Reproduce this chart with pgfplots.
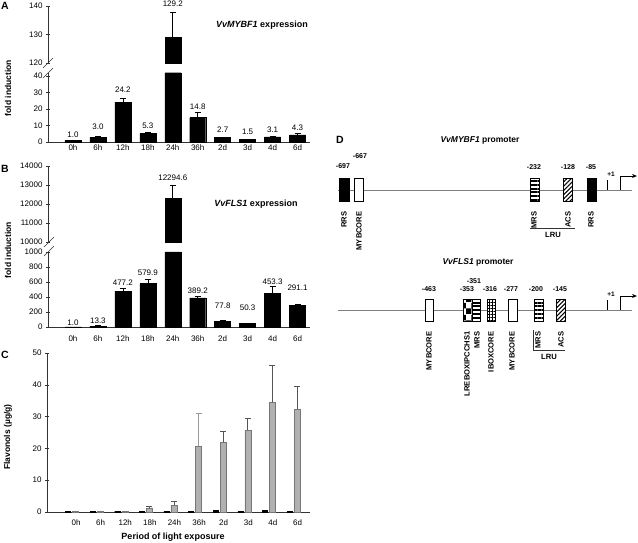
\documentclass[border=0pt]{standalone}
\usepackage{fontspec}
\setmainfont{Liberation Sans}
\usepackage{pgfplots}
\usepackage{pgfplotstable}
\pgfplotsset{compat=1.18}
\usetikzlibrary{patterns,patterns.meta,arrows.meta}

\pgfplotstableread{
x y e
0 1.0 0.3
1 3.0 0.4
2 24.2 2.3
3 5.3 0.3
4 129.2 8.6
5 14.8 2.9
6 2.7 0.2
7 1.5 0.3
8 3.1 0.3
9 4.3 0.8
}\dataA
\pgfplotstableread{
x ylab lab
0 4.2 1.0
1 9.3 3.0
2 31.5 24.2
3 9.7 5.3
5 21.4 14.8
6 7.3 2.7
7 6.1 1.5
8 7.5 3.1
9 8.5 4.3
}\labA
\pgfplotstableread{
x y e
0 1.0 0
1 13.3 3
2 477.2 45
3 579.9 50
4 12294.6 700
5 389.2 20
6 77.8 5
7 50.3 5
8 453.3 95
9 291.1 10
}\dataB
\pgfplotstableread{
x ylab lab
0 57 1.0
1 84 13.3
2 587 477.2
3 720 579.9
5 480 389.2
6 280 77.8
7 257 50.3
8 604 453.3
9 524 291.1
}\labB
\pgfplotstableread{
x y
0 0.2
1 0.2
2 0.25
3 0.2
4 0.25
5 0.25
6 0.5
7 0.2
8 0.5
9 0.2
}\dataCblack
\pgfplotstableread{
x y e
0 0.2 0
1 0.2 0
2 0.25 0
3 1.3 0.4
4 2.2 1.1
5 20.7 10.4
6 21.9 3.5
7 25.7 3.7
8 34.5 11.6
9 32.3 7.1
}\dataCgray

\definecolor{axcol}{HTML}{333333}
\definecolor{barGray}{HTML}{B0B0B0}
\definecolor{barGrayEdge}{HTML}{777777}
\definecolor{errGray}{HTML}{555555}
\definecolor{errLight}{HTML}{9A9A9A}
\definecolor{promLine}{HTML}{808080}

\pgfplotsset{
  panelbase/.style={
    scale only axis, clip=false,
    tick style={axcol, line width=0.6pt},
    tick align=outside, major tick length=4pt,
    /pgf/number format/assume math mode=true,
    /pgf/number format/1000 sep={},
    tick label style={font=\fontsize{8}{9}\selectfont},
    width=262pt, xmin=-1, xmax=9.5,
  },
  noarrows/.style={
    axis line style={axcol, line width=0.6pt, -},
    every outer x axis line/.append style={-},
    every outer y axis line/.append style={-},
    every inner x axis line/.append style={-},
    every inner y axis line/.append style={-},
    x axis line style={-}, y axis line style={-},
  },
  panel/.style={panelbase,
    axis x line=bottom, axis y line=left, noarrows,
    xtick={0,...,9}, xticklabels={0h,6h,12h,18h,24h,36h,2d,3d,4d,6d},
    x tick style={draw=none},
  },
  panelup/.style={panelbase,
    axis x line=none, axis y line=left, noarrows, xtick=\empty,
  },
  labelplot/.style={draw=none, mark=none, nodes near coords, point meta=explicit symbolic,
    every node near coord/.append style={anchor=center, inner sep=0pt, font=\fontsize{8}{9}\selectfont}},
  blackerr/.style={error bars/.cd, y dir=plus, y explicit,
    error bar style={draw=black, line width=0.6pt, solid},
    error mark options={draw=black, line width=0.6pt, mark size=3pt, rotate=90}},
  grayerr/.style={error bars/.cd, y dir=plus, y explicit,
    error bar style={draw=#1, line width=0.6pt, solid},
    error mark options={draw=#1, line width=0.6pt, mark size=3pt, rotate=90}},
}

\begin{document}
\begin{tikzpicture}
\useasboundingbox (0,0) rectangle (638pt,542pt);

% ---------------- Panel A lower
\begin{axis}[panel, at={(48pt,400pt)}, anchor=south west, height=69.3pt,
  ymin=0, ymax=42, ytick={0,10,20,30,40}, x tick label style={yshift=3pt}]
\addplot[ybar, bar width=16pt, fill=black, draw=black, restrict y to domain*=0:42] table[x=x,y=y]{\dataA};
\addplot[draw=none, mark=none, restrict y to domain=0:42, blackerr] table[x=x,y=y,y error=e]{\dataA};
\addplot[labelplot] table[x=x,y=ylab,meta=lab]{\labA};
\end{axis}
% ---------------- Panel A upper
\begin{axis}[panelup, at={(48pt,479pt)}, anchor=south west, height=57pt,
  ymin=0, ymax=20, ytick={0,10,20}, yticklabels={120,130,140}, y filter/.expression={y-120}]
\addplot[ybar, bar width=16pt, fill=black, draw=black, blackerr] coordinates {(4,129.2) +- (0,8.6)};
\addplot[labelplot] coordinates {(4,140.7) [129.2]};
\end{axis}

% ---------------- Panel B lower
\begin{axis}[panel, at={(48pt,215pt)}, anchor=south west, height=75pt,
  ymin=0, ymax=1000, ytick={0,200,...,1000}, x tick label style={yshift=-3pt}]
\addplot[ybar, bar width=16pt, fill=black, draw=black, restrict y to domain*=0:1000] table[x=x,y=y]{\dataB};
\addplot[draw=none, mark=none, restrict y to domain=0:1000, blackerr] table[x=x,y=y,y error=e]{\dataB};
\addplot[labelplot] table[x=x,y=ylab,meta=lab]{\labB};
\end{axis}
% ---------------- Panel B upper
\begin{axis}[panelup, at={(48pt,300pt)}, anchor=south west, height=76pt,
  ymin=0, ymax=4000, ytick={0,1000,...,4000}, yticklabels={10000,11000,12000,13000,14000},
  y filter/.expression={y-10000}]
\addplot[ybar, bar width=16pt, fill=black, draw=black, blackerr] coordinates {(4,12294.6) +- (0,700)};
\addplot[labelplot] coordinates {(4,13368) [12294.6]};
\end{axis}

% ---------------- Panel C
\begin{axis}[panel, at={(47pt,30pt)}, anchor=south west, width=263pt, height=159pt,
  xmin=-1.016, xmax=9.67, ymin=0, ymax=50, ytick={0,10,...,50},
  x tick label style={xshift=4pt, yshift=-2pt}]
\addplot[ybar, bar width=5pt, bar shift=-4pt, fill=black, draw=black] table[x=x,y=y]{\dataCblack};
\addplot[ybar, bar width=6pt, bar shift=3.5pt, fill=barGray, draw=barGrayEdge] table[x=x,y=y]{\dataCgray};
% error bars of the grey bars, placed at the grey bar centres (+3.5pt = 0.142 units)
\addplot[draw=none, mark=none, x filter/.expression={x+0.142}, restrict x to domain=5.5:9.5, grayerr=errGray]
  table[x=x,y=y,y error=e]{\dataCgray};
\addplot[draw=none, mark=none, x filter/.expression={x+0.142}, restrict x to domain=2.5:4.5, grayerr=errGray]
  table[x=x,y=y,y error=e]{\dataCgray};
\addplot[draw=none, mark=none, x filter/.expression={x+0.142}, restrict x to domain=4.5:5.5, grayerr=errLight]
  table[x=x,y=y,y error=e]{\dataCgray};
\end{axis}

% ---------------- Overlay: letters, labels, panel D (image pixel coordinates)
\begin{axis}[at={(0pt,0pt)}, anchor=south west, scale only axis, width=638pt, height=542pt,
  xmin=0, xmax=638, ymin=0, ymax=542, y dir=reverse, hide axis, clip=false]
% panel letters
\node[font=\fontsize{10.5}{12}\selectfont\bfseries] at (axis cs:5,6) {A};
\node[font=\fontsize{10.5}{12}\selectfont\bfseries] at (axis cs:5,169) {B};
\node[font=\fontsize{10.5}{12}\selectfont\bfseries] at (axis cs:5,355) {C};
\node[font=\fontsize{10.5}{12}\selectfont\bfseries] at (axis cs:340,140) {D};
% axis labels
\node[rotate=90, font=\fontsize{8.5}{10}\selectfont\bfseries] at (axis cs:8,88) {fold induction};
\node[rotate=90, font=\fontsize{8.5}{10}\selectfont\bfseries] at (axis cs:8,250) {fold induction};
\node[rotate=90, font=\fontsize{8.5}{10}\selectfont\bfseries] at (axis cs:8,437) {Flavonols (µg/g)};
\node[font=\fontsize{9}{10}\selectfont\bfseries] at (axis cs:173,537) {Period of light exposure};
% titles
\node[font=\fontsize{9}{10}\selectfont\bfseries] at (axis cs:262,25) {\textit{VvMYBF1} expression};
\node[font=\fontsize{9}{10}\selectfont\bfseries] at (axis cs:256,204) {\textit{VvFLS1} expression};
% axis breaks
\draw[axcol, line width=0.6pt] (axis cs:43,68) -- (axis cs:53,58);
\draw[axcol, line width=0.6pt] (axis cs:43,78) -- (axis cs:53,68);
\draw[axcol, line width=0.6pt] (axis cs:44,247) -- (axis cs:54,237);
\draw[axcol, line width=0.6pt] (axis cs:44,256) -- (axis cs:54,246);

% ===== D: VvMYBF1 promoter
\node[font=\fontsize{8.5}{10}\selectfont\bfseries] at (axis cs:480,140) {\textit{VvMYBF1} promoter};
\draw[promLine, line width=0.9pt] (axis cs:338,190) -- (axis cs:632,190);
\draw[black, line width=0.6pt, fill=black] (axis cs:339,178) rectangle (axis cs:349,201);
\draw[black, line width=0.6pt, fill=white] (axis cs:354,178) rectangle (axis cs:363,201);
\draw[black, line width=0.6pt, fill=white] (axis cs:530,178) rectangle (axis cs:539,201);
\fill[pattern={Lines[angle=0,distance=3.8pt,line width=1.9pt]}] (axis cs:530,178) rectangle (axis cs:539,201);
\draw[black, line width=0.6pt] (axis cs:530,178) rectangle (axis cs:539,201);
\draw[black, line width=0.6pt, fill=white] (axis cs:563,178) rectangle (axis cs:572,201);
\fill[pattern={Lines[angle=45,distance=3pt,line width=1.1pt]}] (axis cs:563,178) rectangle (axis cs:572,201);
\draw[black, line width=0.6pt] (axis cs:563,178) rectangle (axis cs:572,201);
\draw[black, line width=0.6pt, fill=black] (axis cs:587,178) rectangle (axis cs:596,201);
\draw[black, line width=0.7pt] (axis cs:607,190) -- (axis cs:607,180);
\node[font=\fontsize{6.5}{7}\selectfont\bfseries] at (axis cs:611,174) {+1};
\draw[black, line width=0.8pt, -{Stealth[length=5pt,width=4pt]}] (axis cs:620,190) -- (axis cs:620,176) -- (axis cs:637,176);
\begin{scope}[every node/.style={font=\fontsize{7}{8}\selectfont\bfseries}]
\node at (axis cs:343,166) {-697};
\node at (axis cs:360,156) {-667};
\node at (axis cs:534,167) {-232};
\node at (axis cs:568,167) {-128};
\node at (axis cs:591,167) {-85};
\end{scope}
\begin{scope}[every node/.style={font=\fontsize{7.6}{8}\selectfont\bfseries}]
\node[rotate=90, anchor=east] at (axis cs:344,208) {RRS};
\node[rotate=90, anchor=east] at (axis cs:359,208) {MYBCORE};
\node[rotate=90, anchor=east] at (axis cs:534,208) {MRS};
\node[rotate=90, anchor=east] at (axis cs:568,208) {ACS};
\node[rotate=90, anchor=east] at (axis cs:591,208) {RRS};
\node at (axis cs:553,235) {LRU};
\end{scope}
\draw[black!80, line width=0.7pt] (axis cs:530,228) -- (axis cs:575,228);

% ===== D: VvFLS1 promoter
\node[font=\fontsize{8.5}{10}\selectfont\bfseries] at (axis cs:478,262) {\textit{VvFLS1} promoter};
\draw[promLine, line width=0.9pt] (axis cs:338,310) -- (axis cs:632,310);
\draw[black, line width=0.6pt, fill=white] (axis cs:425,299) rectangle (axis cs:433,321);
\draw[black, line width=0.6pt, fill=white] (axis cs:463,299) rectangle (axis cs:472,321);
\fill[pattern=checkerboard] (axis cs:463,299) rectangle (axis cs:472,321);
\draw[black, line width=0.6pt] (axis cs:463,299) rectangle (axis cs:472,321);
\draw[black, line width=0.6pt, fill=white] (axis cs:472,299) rectangle (axis cs:480,321);
\fill[pattern={Lines[angle=0,distance=3.8pt,line width=1.9pt]}] (axis cs:472,299) rectangle (axis cs:480,321);
\draw[black, line width=0.6pt] (axis cs:472,299) rectangle (axis cs:480,321);
\draw[black, line width=0.6pt, fill=white] (axis cs:487,299) rectangle (axis cs:495,321);
\fill[pattern={Hatch[angle=0,distance=3pt,line width=0.7pt]}] (axis cs:487,299) rectangle (axis cs:495,321);
\draw[black, line width=0.6pt] (axis cs:487,299) rectangle (axis cs:495,321);
\draw[black, line width=0.6pt, fill=white] (axis cs:508,299) rectangle (axis cs:517,321);
\draw[black, line width=0.6pt, fill=white] (axis cs:534,299) rectangle (axis cs:543,321);
\fill[pattern={Lines[angle=0,distance=3.8pt,line width=1.9pt]}] (axis cs:534,299) rectangle (axis cs:543,321);
\draw[black, line width=0.6pt] (axis cs:534,299) rectangle (axis cs:543,321);
\draw[black, line width=0.6pt, fill=white] (axis cs:556,299) rectangle (axis cs:565,321);
\fill[pattern={Lines[angle=45,distance=3pt,line width=1.1pt]}] (axis cs:556,299) rectangle (axis cs:565,321);
\draw[black, line width=0.6pt] (axis cs:556,299) rectangle (axis cs:565,321);
\draw[black, line width=0.7pt] (axis cs:607,310) -- (axis cs:607,300);
\node[font=\fontsize{6.5}{7}\selectfont\bfseries] at (axis cs:611,294) {+1};
\draw[black, line width=0.8pt, -{Stealth[length=5pt,width=4pt]}] (axis cs:620,310) -- (axis cs:620,296) -- (axis cs:637,296);
\begin{scope}[every node/.style={font=\fontsize{7}{8}\selectfont\bfseries}]
\node at (axis cs:429,289) {-463};
\node at (axis cs:474,281) {-351};
\node at (axis cs:467,289) {-353};
\node at (axis cs:490,289) {-316};
\node at (axis cs:511,289) {-277};
\node at (axis cs:536,289) {-200};
\node at (axis cs:560,289) {-145};
\end{scope}
\begin{scope}[every node/.style={font=\fontsize{7.6}{8}\selectfont\bfseries}]
\node[rotate=90, anchor=east] at (axis cs:429,328) {MYBCORE};
\node[rotate=90, anchor=east] at (axis cs:467,328) {LREBOXIPCCHS1};
\node[rotate=90, anchor=east] at (axis cs:477,328) {MRS};
\node[rotate=90, anchor=east] at (axis cs:491,328) {IBOXCORE};
\node[rotate=90, anchor=east] at (axis cs:512,328) {MYBCORE};
\node[rotate=90, anchor=east] at (axis cs:538,328) {MRS};
\node[rotate=90, anchor=east] at (axis cs:561,328) {ACS};
\node at (axis cs:549,357) {LRU};
\end{scope}
\draw[black!80, line width=0.7pt] (axis cs:533,350) -- (axis cs:565,350);
\draw[black!80, line width=0.7pt] (axis cs:533,350) -- (axis cs:533,330);
\end{axis}
\end{tikzpicture}
\end{document}
